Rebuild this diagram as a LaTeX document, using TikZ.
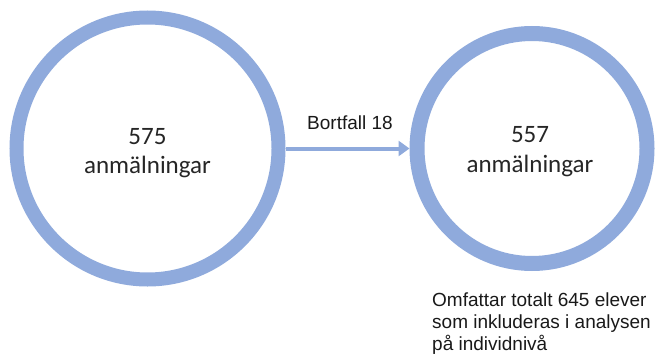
\documentclass[tikz,border=0pt]{standalone}
\usepackage{fontspec}
\setmainfont{Liberation Sans}
\newfontfamily\calib{Carlito}
\usetikzlibrary{arrows.meta}
\definecolor{ringblue}{HTML}{8FAADC}
\begin{document}
\begin{tikzpicture}[x=1pt,y=1pt,
  ring/.style={circle,draw=ringblue,fill=white,inner sep=0pt},
  ctext/.style={font=\calib\fontsize{25}{29}\selectfont,text=black!85,anchor=base,inner sep=0pt},
  stext/.style={font=\fontsize{19}{22}\selectfont,text=black!90,inner sep=0pt},
  flow/.style={draw=ringblue,line width=4pt,-{Triangle[length=11pt,width=15pt]}}]
\useasboundingbox (0,0) rectangle (655,354);
\node[ring,line width=14pt,minimum size=262pt] (L) at (147.5,205.5) {};
\node[ring,line width=15pt,minimum size=230pt] (R) at (532,205.5) {};
\node[ctext] (l1) at (147.5,210) {575};
\node[ctext] (l2) at (147.5,181) {anmälningar};
\node[ctext] (r1) at (530,212) {557};
\node[ctext] (r2) at (530,182) {anmälningar};
\draw[flow] (L.east) -- (R.west);
\node[stext,anchor=base] (bf) at (350,225) {Bortfall 18};
\node[stext,anchor=base west] (n1) at (432,48) {Omfattar totalt 645 elever};
\node[stext,anchor=base west] (n2) at (432,25.5) {som inkluderas i analysen};
\node[stext,anchor=base west] (n3) at (432,4) {på individnivå};
\end{tikzpicture}
\end{document}
